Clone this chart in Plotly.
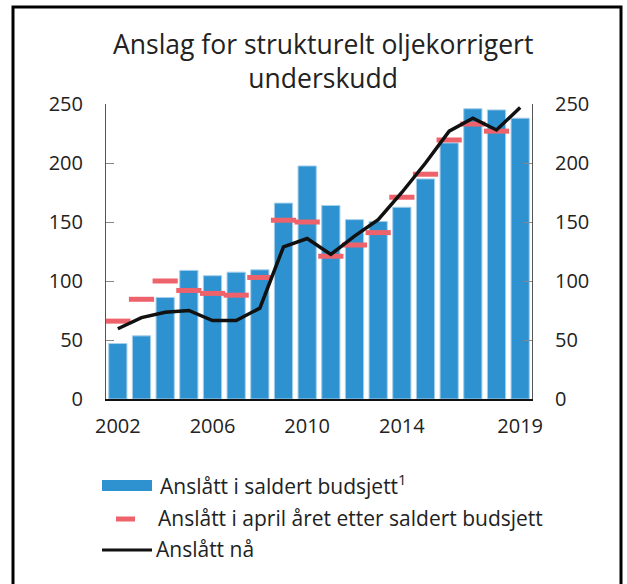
import plotly.graph_objects as go

years = list(range(2002, 2020))
saldert = [47, 53.5, 86, 109, 104.5, 107.5, 109.5, 166, 197.5, 164, 152, 150.5, 162.5, 186.5, 217, 246, 245, 238]
april = [66, 84.5, 100, 92, 89.5, 88, 103, 151.5, 150, 121, 130.5, 141, 171, 190.5, 219.5, 233, 227, None]
naa = [59.5, 69, 73.5, 75, 66.5, 66.5, 77, 129, 136, 122.5, 138, 152, 175, 200, 227, 238, 228, 247]

x_ticks = [2002, 2006, 2010, 2014, 2019]
y_ticks = [0, 50, 100, 150, 200, 250]

title = "Anslag for strukturelt oljekorrigert<br>underskudd"
leg_names = ["Anslått i saldert budsjett<sup>1</sup>",
             "Anslått i april året etter saldert budsjett", "Anslått nå"]

BLUE = "#2E92D0"
RED = "#EE636B"
BLACK = "#111111"
FONT = "Open Sans"

fig = go.Figure()
fig.add_trace(go.Bar(x=years, y=saldert, marker=dict(color=BLUE, line=dict(color="#A6CFEA", width=1)),
                     name="Anslått i saldert budsjett", showlegend=False))
fig.add_trace(go.Scatter(x=years, y=april, mode="markers",
                         marker=dict(symbol="line-ew", size=18, line=dict(color=RED, width=5)),
                         name=leg_names[1], showlegend=False))
fig.add_trace(go.Scatter(x=years, y=naa, mode="lines", line=dict(color=BLACK, width=3.5),
                         name=leg_names[2], showlegend=False))
fig.add_trace(go.Scatter(x=[None], y=[None], yaxis="y2", showlegend=False, hoverinfo="skip"))

L, R, T, B = 106, 95, 104, 185
W, H = 627, 584
pw, ph = W - L - R, H - T - B

def px(xp):
    return (xp - L) / pw

def py(yp):
    return (H - B - yp) / ph

axis_font = dict(family=FONT, size=20, color="#222222")

fig.update_layout(
    width=W, height=H,
    margin=dict(l=L, r=R, t=T, b=B, pad=0),
    paper_bgcolor="white", plot_bgcolor="white",
    bargap=0.23,
    font=dict(family=FONT),
    xaxis=dict(range=[2001.5, 2019.5], tickvals=x_ticks, ticktext=[str(v) for v in x_ticks],
               ticks="", showgrid=False, zeroline=False, showline=True, linecolor="#111111", linewidth=1.5,
               tickfont=axis_font, ticklabelstandoff=8, fixedrange=True),
    yaxis=dict(range=[0, 250], tickvals=y_ticks, ticks="inside", ticklen=8, tickcolor="#888888",
               showgrid=False, zeroline=False, showline=True, linecolor="#555555", linewidth=1,
               tickfont=axis_font, ticklabelstandoff=18),
    yaxis2=dict(range=[0, 250], tickvals=y_ticks, ticks="inside", ticklen=8, tickcolor="#888888",
                overlaying="y", side="right", showgrid=False, zeroline=False, showline=True,
                linecolor="#555555", linewidth=1, tickfont=axis_font, ticklabelstandoff=18),
)

shapes = []
# outer frame
shapes.append(dict(type="rect", xref="paper", yref="paper", x0=px(13), x1=px(621), y0=py(600), y1=py(7),
                   line=dict(color="black", width=3), fillcolor="rgba(0,0,0,0)", layer="above"))
# legend symbols
shapes.append(dict(type="rect", xref="paper", yref="paper", x0=px(102), x1=px(152), y0=py(491), y1=py(480),
                   line=dict(width=0), fillcolor=BLUE))
shapes.append(dict(type="line", xref="paper", yref="paper", x0=px(116), x1=px(135), y0=py(519), y1=py(519),
                   line=dict(color=RED, width=5)))
shapes.append(dict(type="line", xref="paper", yref="paper", x0=px(102), x1=px(152), y0=py(550), y1=py(550),
                   line=dict(color=BLACK, width=3)))
fig.update_layout(shapes=shapes)

ann = []
ann.append(dict(text=title, xref="paper", yref="paper", x=px(322.5), y=py(61), xanchor="center", yanchor="middle",
                showarrow=False, font=dict(family=FONT, size=26.5, color="#222222")))
leg_font = dict(family=FONT, size=21, color="#222222")
for name, xx, yy in [(leg_names[0], 158, 484), (leg_names[1], 156, 518), (leg_names[2], 154, 549)]:
    ann.append(dict(text=name, xref="paper", yref="paper", x=px(xx), y=py(yy), xanchor="left", yanchor="middle",
                    showarrow=False, font=leg_font))
fig.update_layout(annotations=ann)

fig.write_html("out.html", config={"displayModeBar": False},
               post_script="document.body.style.margin='0';document.body.style.overflow='hidden';")
